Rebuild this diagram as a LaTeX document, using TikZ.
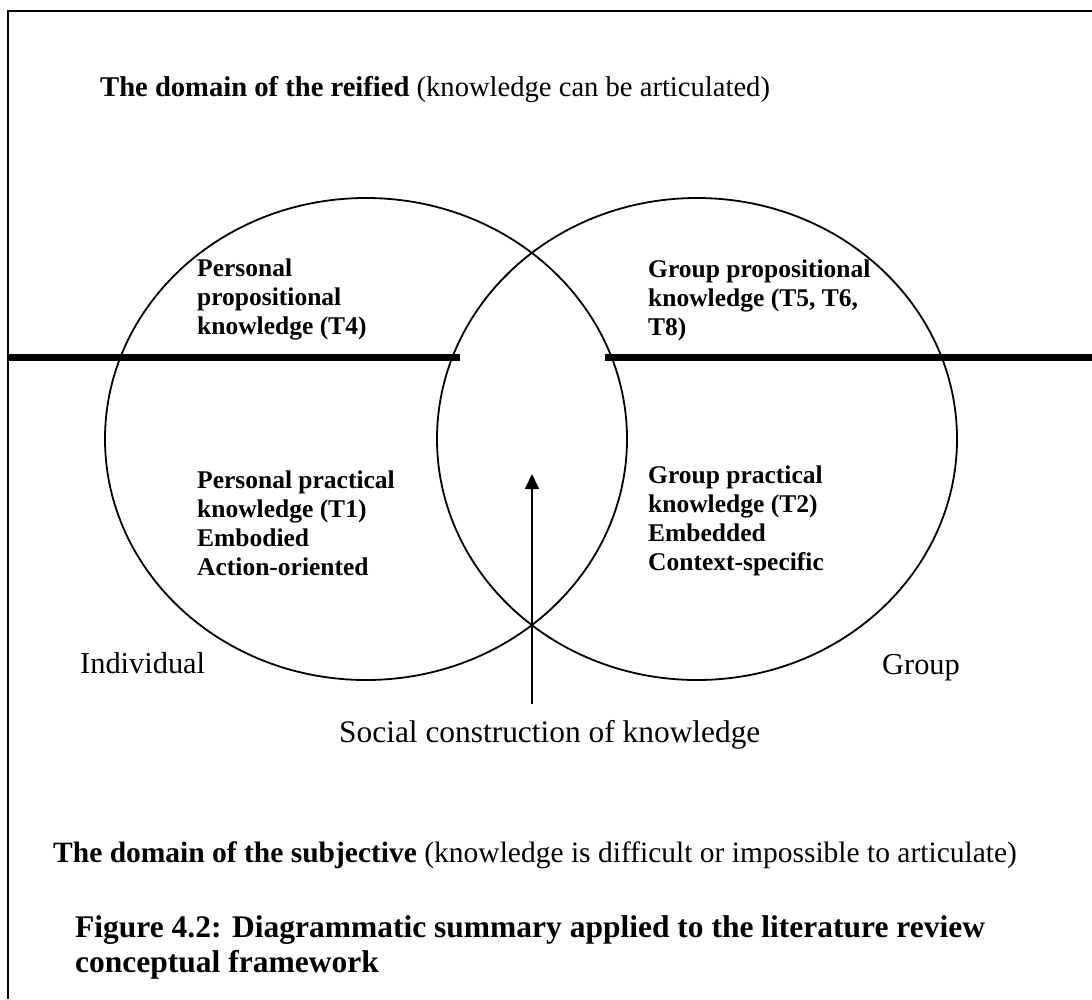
\documentclass[tikz,border=0pt]{standalone}
\usepackage{fontspec}
\setmainfont{Liberation Serif}
\usetikzlibrary{arrows.meta,shapes.geometric}
\begin{document}
\begin{tikzpicture}[x=1pt,y=-1pt,
  frame/.style={line width=2pt},
  venn/.style={line width=1.8pt},
  divider/.style={line width=7pt},
  inner/.style={anchor=base west,inner sep=0pt,align=left,
    font=\fontsize{25.5}{28.8}\selectfont\bfseries},
  plain/.style={anchor=base west,inner sep=0pt},
  arrowline/.style={line width=2pt,-{Triangle[length=15pt,width=14pt]}}]
\useasboundingbox (0,0) rectangle (1092,999);
% frame (top and left edges)
\coordinate (tl) at (8,11);
\coordinate (tr) at (1092,11);
\coordinate (bl) at (8,999);
\draw[frame] (tr) -- (tl) -- (bl);
% domain headings
\node[plain,font=\fontsize{28.6}{32}\selectfont] (reified) at (100,96)
  {\textbf{The domain of the reified} (knowledge can be articulated)};
\node[plain,font=\fontsize{29.5}{32}\selectfont] (subjective) at (53,862)
  {\textbf{The domain of the subjective} (knowledge is difficult or impossible to articulate)};
% the two overlapping regions
\node[venn,draw,ellipse,minimum width=522pt,minimum height=482pt,inner sep=0pt] (indiv) at (366,439) {};
\node[venn,draw,ellipse,minimum width=520pt,minimum height=482pt,inner sep=0pt] (group) at (697,439) {};
% reified / subjective boundary
\coordinate (dl0) at (8,357);
\coordinate (dl1) at (460,357);
\coordinate (dr0) at (605,357);
\coordinate (dr1) at (1092,357);
\draw[divider] (dl0) -- (dl1);
\draw[divider] (dr0) -- (dr1);
% region texts (positioned by the baseline of their last line)
\node[inner] (ppk) at (197,334) {Personal\\propositional\\knowledge (T4)};
\node[inner] (gpk) at (648,335) {Group propositional\\knowledge (T5, T6,\\T8)};
\node[inner] (pprk) at (197,575) {Personal practical\\knowledge (T1)\\Embodied\\Action-oriented};
\node[inner] (gprk) at (648,570) {Group practical\\knowledge (T2)\\Embedded\\Context-specific};
\node[plain,font=\fontsize{30.4}{34}\selectfont] (indlabel) at (80,673) {Individual};
\node[plain,font=\fontsize{30.4}{34}\selectfont] (grplabel) at (882,674) {Group};
\node[plain,font=\fontsize{31.4}{34}\selectfont] (social) at (339,742) {Social construction of knowledge};
% arrow into the overlap
\coordinate (arrowfoot) at (532,704);
\coordinate (arrowtip) at (532,474);
\draw[arrowline] (arrowfoot) -- (arrowtip);
% caption
\node[anchor=base west,inner sep=0pt,align=left,font=\fontsize{31.5}{35}\selectfont\bfseries] (caption) at (75,972)
  {Figure 4.2: Diagrammatic summary applied to the literature review\\conceptual framework};
\end{tikzpicture}
\end{document}
